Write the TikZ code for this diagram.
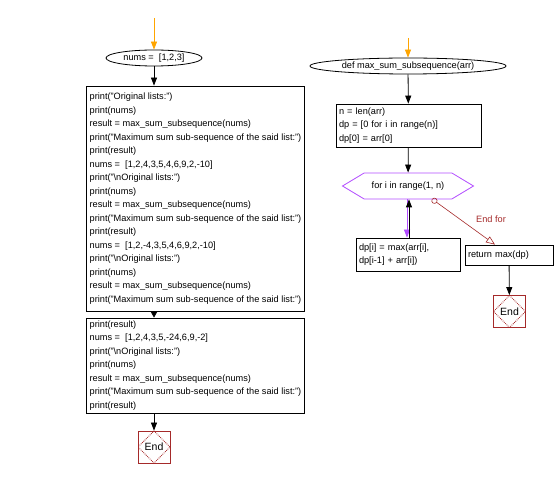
\documentclass[tikz,border=0pt]{standalone}
\usepackage{fontspec}
\setmainfont{Liberation Sans}
\usepackage{tikz}
\usetikzlibrary{positioning,shapes,arrows.meta}
\definecolor{startorange}{RGB}{255,165,0}
\definecolor{endred}{RGB}{165,42,42}
\definecolor{loopviolet}{RGB}{178,76,255}
\newcommand{\nl}{\textbackslash n}

\begin{document}
\begin{tikzpicture}
            [x=1pt,y=-1pt,line width=0.8pt,>={Triangle[length=8pt,width=6pt]},
             every node/.style={font=\fontsize{9.2}{13.5}\selectfont, inner sep=0pt},
             startnode/.style={draw, ellipse, minimum height=16pt},
             codebox/.style={draw, rectangle, align=left, inner xsep=3pt},
             endnode/.style={draw=endred, rectangle, minimum size=32pt, font=\fontsize{10.5}{12}\selectfont,
               path picture={\draw[endred, densely dotted] (path picture bounding box.north) -- (path picture bounding box.east)
                 -- (path picture bounding box.south) -- (path picture bounding box.west) -- cycle;}},
             loopnode/.style={draw=loopviolet, signal, signal to=east and west, signal pointer angle=62, minimum height=26pt}]
          \useasboundingbox (0,0) rectangle (555,478);

          % main program
          \coordinate (s1) at (154,18);
          \node[startnode, minimum width=96pt] (nums) at (154,58) {nums = \ [1,2,3]};
          \node[codebox, minimum width=215pt, minimum height=225pt] (main1) at (195.5,198.5) {print("Original lists:")\\
            print(nums)\\
            result = max\_sum\_subsequence(nums)\\
            print("Maximum sum sub-sequence of the said list:")\\
            print(result)\\
            nums = \ [1,2,4,3,5,4,6,9,2,-10]\\
            print("\nl Original lists:")\\
            print(nums)\\
            result = max\_sum\_subsequence(nums)\\
            print("Maximum sum sub-sequence of the said list:")\\
            print(result)\\
            nums = \ [1,2,-4,3,5,4,6,9,2,-10]\\
            print("\nl Original lists:")\\
            print(nums)\\
            result = max\_sum\_subsequence(nums)\\
            print("Maximum sum sub-sequence of the said list:")};
          \node[codebox, minimum width=215pt, minimum height=95pt] (main2) at (195.5,365.5) {print(result)\\
            nums = \ [1,2,4,3,5,-24,6,9,-2]\\
            print("\nl Original lists:")\\
            print(nums)\\
            result = max\_sum\_subsequence(nums)\\
            print("Maximum sum sub-sequence of the said list:")\\
            print(result)};
          \node[endnode] (end1) at (154,447) {End};

          % function
          \coordinate (s2) at (408,38);
          \node[startnode, minimum width=196pt] (def) at (408,66) {def max\_sum\_subsequence(arr)};
          \node[codebox, text width=139pt, minimum height=43pt] (init) at (408.5,125.5) {n = len(arr)\\
            dp = [0 for i in range(n)]\\
            dp[0] = arr[0]};
          \node[loopnode, minimum width=131pt] (loop) at (408,186) {for i in range(1, n)};
          \node[codebox, text width=98pt, minimum height=33pt] (body) at (408,254.5) {dp[i] = max(arr[i],\\
            dp[i-1] + arr[i])};
          \node[codebox, text width=82pt, minimum height=20pt] (ret) at (509,255) {return max(dp)};
          \node[endnode] (end2) at (509.5,311.5) {End};
          \coordinate (loopexit) at (432,199);
          \node[text=endred] (endfor) at (491,219) {End for};

          \draw[->, startorange] (s1) -- (nums);
          \draw[->] (nums) -- (nums |- main1.north);
          \draw[-{Triangle[length=5.5pt,width=6pt]}] (nums |- main1.south) -- (nums |- main2.north);
          \draw[->] (nums |- main2.south) -- (end1);
          \draw[->, startorange] (s2) -- (def);
          \foreach \from/\to in {def/init, init/loop, ret/end2}
            \draw (\from) edge[->] (\to);
          \draw[->, loopviolet] ([xshift=-1pt]loop.south) -- ([xshift=-1pt]body.north);
          \draw[->] ([xshift=1pt]body.north) -- ([xshift=1pt]loop.south);
          \draw[endred, line width=0.6pt, {Circle[open,length=6pt]}-{Triangle[open,length=9pt,width=7pt]}] (loopexit) -- ([xshift=-14pt]ret.north);
        \end{tikzpicture}
\end{document}
